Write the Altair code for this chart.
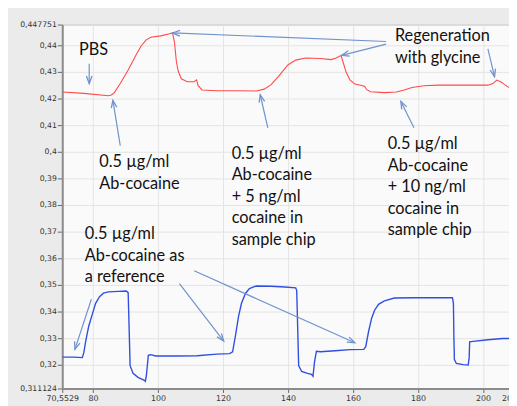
import math
import altair as alt
import pandas as pd

# ---- data ----
red_x = [70.6, 77.2, 84.76, 85.67, 86.58, 88.4, 90.83, 93.25, 94.77, 96.29, 97.8, 100.83, 103.56, 104.47,
         105.08, 105.68, 106.29, 107.2, 109.0, 111.1, 111.9, 112.36, 113.57, 118.12, 124.19, 130.25,
         132.68, 134.8, 137.23, 139.96, 142.39, 145.42, 149.97, 153.3, 154.82, 156.34,
         156.94, 157.85, 159.07, 160.58, 163.0, 163.6, 164.22, 165.43, 169.67, 173.31, 175.74,
         178.16, 181.8, 186.35, 193.93, 201.5, 203.02, 204.24, 205.45, 206.66, 208.0]
red_y = [0.4224, 0.4219, 0.4210, 0.4213, 0.4222, 0.4256, 0.4307, 0.4363, 0.4396, 0.4419, 0.4430, 0.4435, 0.4443, 0.4446,
         0.4411, 0.4337, 0.4300, 0.4274, 0.4263, 0.4263, 0.4270, 0.4248, 0.4232, 0.4229, 0.4229, 0.4228,
         0.4235, 0.4252, 0.4285, 0.4326, 0.4344, 0.4352, 0.4350, 0.4346, 0.4352, 0.4361,
         0.4337, 0.4300, 0.4270, 0.4254, 0.4248, 0.4245, 0.4233, 0.4225, 0.4222, 0.4224, 0.4232,
         0.4241, 0.4248, 0.4250, 0.4250, 0.4250, 0.4256, 0.4269, 0.4263, 0.4252, 0.4241]

blue_x = [70.6, 74.15, 76.72, 77.18, 77.79, 78.7, 79.91, 80.82, 82.03, 83.24, 84.76, 87.79, 90.22,
          90.83, 91.13, 91.43, 92.34, 93.86, 95.83, 96.13, 96.44, 97.04, 97.8, 99.32, 105.99, 112.05,
          118.12, 122.06, 122.97, 123.88, 124.79, 125.7, 126.92, 128.13, 130.25, 134.8, 139.05, 142.38,
          142.69, 142.99, 143.29, 144.2, 146.02, 147.23, 147.7, 148.15, 148.75, 149.97, 154.52, 159.07,
          163.31, 163.92, 164.83, 165.74, 166.65, 167.86, 169.68, 172.71, 178.78, 186.36, 190.6,
          190.9, 191.05, 191.2, 191.81, 193.93, 195.45, 195.75, 195.9, 196.96, 201.5, 206.06, 208.0]
blue_y = [0.3229, 0.3229, 0.3227, 0.3245, 0.3290, 0.3345, 0.3394, 0.3431, 0.3456, 0.3469, 0.3474, 0.3476, 0.3477,
          0.3471, 0.3338, 0.3197, 0.3168, 0.3153, 0.3142, 0.3138, 0.3160, 0.3236, 0.3238, 0.3233, 0.3233, 0.3234,
          0.3240, 0.3242, 0.3249, 0.3312, 0.3382, 0.3431, 0.3468, 0.3486, 0.3496, 0.3495, 0.3492, 0.3489,
          0.3479, 0.3338, 0.3197, 0.3175, 0.3168, 0.3164, 0.3157, 0.3209, 0.3251, 0.3249, 0.3253, 0.3257,
          0.3258, 0.3268, 0.3327, 0.3375, 0.3405, 0.3427, 0.3440, 0.3451, 0.3452, 0.3452, 0.3452,
          0.3431, 0.3301, 0.3220, 0.3205, 0.3201, 0.3199, 0.3227, 0.3286, 0.3288, 0.3294, 0.3299, 0.3299]

arrow_x1 = [78.85, 88.40, 170.19, 170.19, 201.51, 133.80, 178.77, 79.51, 106.60, 111.14]
arrow_y1 = [0.4330, 0.4023, 0.4414, 0.4404, 0.4386, 0.4090, 0.4090, 0.3446, 0.3505, 0.3553]
arrow_x2 = [78.85, 86.13, 104.47, 156.54, 203.55, 131.46, 174.74, 74.45, 120.24, 160.58]
arrow_y2 = [0.4256, 0.4193, 0.4446, 0.4362, 0.4282, 0.4214, 0.4189, 0.3258, 0.3289, 0.3283]

label_text = ["PBS",
              "Regeneration\nwith glycine",
              "0.5 µg/ml\nAb-cocaine",
              "0.5 µg/ml\nAb-cocaine\n+ 5 ng/ml\ncocaine in\nsample chip",
              "0.5 µg/ml\nAb-cocaine\n+ 10 ng/ml\ncocaine in\nsample chip",
              "0.5 µg/ml\nAb-cocaine as\na reference"]
label_x = [75.69, 172.9, 81.94, 122.67, 170.67, 77.48]
label_y = [0.4363, 0.4414, 0.3942, 0.3973, 0.4010, 0.3671]

x_ticks = [70.5529, 80, 100, 120, 140, 160, 180, 200, 208]
y_ticks = [0.311124, 0.32, 0.33, 0.34, 0.35, 0.36, 0.37, 0.38, 0.39, 0.4, 0.41, 0.42, 0.43, 0.44, 0.447751]

X_MIN, X_MAX = 70.5529, 208
Y_MIN, Y_MAX = 0.311124, 0.447751
W, H = 453, 369

# ---- tables ----
red = pd.DataFrame({"x": red_x, "y": red_y})
blue = pd.DataFrame({"x": blue_x, "y": blue_y})
arrows = pd.DataFrame({"x1": arrow_x1, "y1": arrow_y1, "x2": arrow_x2, "y2": arrow_y2})
px_per_x = W / (X_MAX - X_MIN)
px_per_y = H / (Y_MAX - Y_MIN)
angles = []
for a, b, c, d in zip(arrow_x1, arrow_y1, arrow_x2, arrow_y2):
    dx = (c - a) * px_per_x
    dy = -(d - b) * px_per_y
    angles.append(math.degrees(math.atan2(dx, -dy)) % 360)
arrows["angle"] = angles
labels = pd.DataFrame({"t": label_text, "x": label_x, "y": label_y})

xs = alt.Scale(domain=[X_MIN, X_MAX], nice=False, zero=False)
ys = alt.Scale(domain=[Y_MIN, Y_MAX], nice=False, zero=False)

xaxis = alt.Axis(values=x_ticks, labelExpr="replace(toString(datum.value), '.', ',')",
                 title=None, grid=True, gridColor="#e4e4e4", tickSize=4, tickColor="#666",
                 domainColor="#8c8c8c", domainWidth=2, labelFont="DejaVu Sans", labelFontSize=8,
                 labelColor="#333", labelPadding=2, labelOverlap=False, labelFlush=False,
                 tickCount=len(x_ticks))
yaxis = alt.Axis(values=y_ticks, labelExpr="replace(toString(datum.value), '.', ',')",
                 title=None, grid=True, gridColor="#e4e4e4", tickSize=5, tickColor="#666",
                 domainColor="#8c8c8c", domainWidth=2, labelFont="DejaVu Sans", labelFontSize=7.8,
                 labelColor="#333", labelPadding=1, labelOverlap=False, labelFlush=False,
                 tickCount=len(y_ticks), labelSeparation=0)


def X(f):
    return alt.X(f, scale=xs, axis=xaxis)


def Y(f):
    return alt.Y(f, scale=ys, axis=yaxis)


red_line = alt.Chart(red).mark_line(color="#ff4a4a", strokeWidth=1.1, clip=True).encode(
    x=X("x:Q"), y=Y("y:Q"))
blue_line = alt.Chart(blue).mark_line(color="#2f4fe0", strokeWidth=1.4, clip=True).encode(
    x=X("x:Q"), y=Y("y:Q"))

arrow_col = "#6f93cc"
shafts = alt.Chart(arrows).mark_rule(color=arrow_col, strokeWidth=1.2).encode(
    x=X("x1:Q"), y=Y("y1:Q"), x2="x2:Q", y2="y2:Q")
heads = alt.Chart(arrows).mark_point(shape="M-0.6,1.6L0,0L0.6,1.6", filled=False, size=90,
                                     color=arrow_col, strokeWidth=1.3, opacity=1).encode(
    x=X("x2:Q"), y=Y("y2:Q"), angle=alt.Angle("angle:Q", scale=None))

texts = alt.Chart(labels).mark_text(align="left", baseline="alphabetic", font="Lato", fontSize=16.5,
                                    lineBreak="\n", lineHeight=21.8, color="#111").encode(
    x=X("x:Q"), y=Y("y:Q"), text="t:N")

chart = alt.layer(red_line, blue_line, shafts, heads, texts).properties(
    width=W, height=H,
    autosize=alt.AutoSizeParams(type="none"),
    padding={"left": 55, "top": 14, "right": 0, "bottom": 16},
    background="#ebebeb",
).configure_view(fill="#fafafa", stroke="#b5b5b5", strokeWidth=1
).configure_axis(labelOverlap=False)

chart.save("out.html", embed_options={"renderer": "svg", "actions": False})
